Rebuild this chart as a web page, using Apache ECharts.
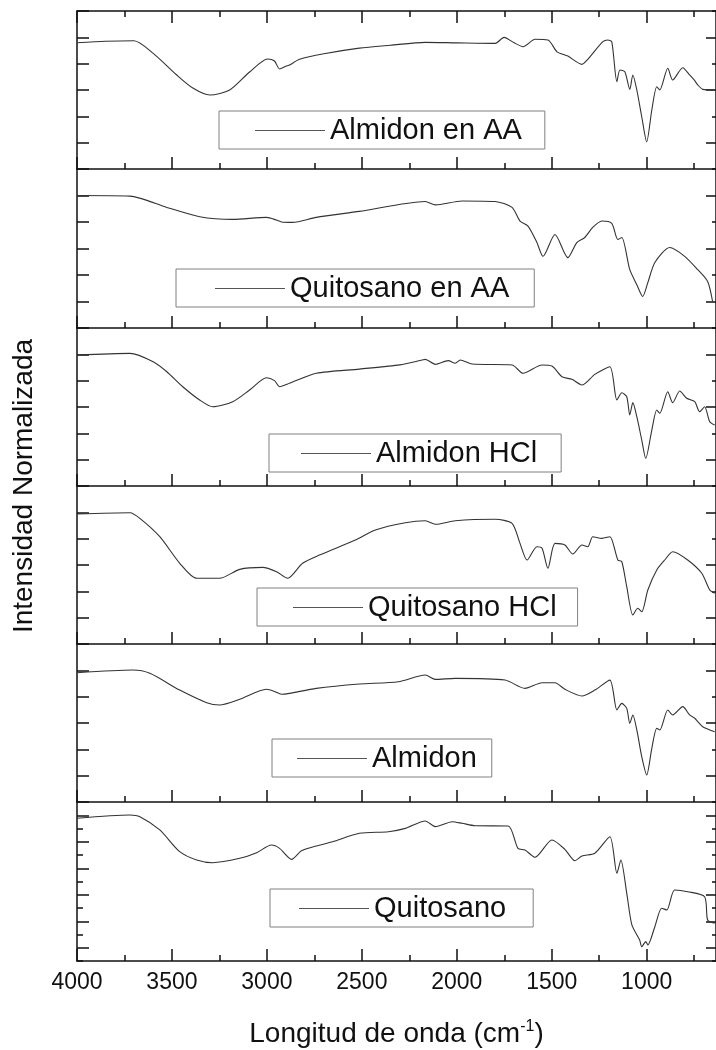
<!DOCTYPE html>
<html><head><meta charset="utf-8">
<script src="https://cdn.jsdelivr.net/npm/echarts@6/dist/echarts.min.js"></script>
<style>html,body{margin:0;padding:0;background:#fff}#c{width:716px;height:1050px}</style>
</head><body><div id="c"></div>
<script>
// ---- tick values ----
const wnMajor = [4000, 3500, 3000, 2500, 2000, 1500, 1000];
const wnMinor = [3750, 3250, 2750, 2250, 1750, 1250, 750];
const seriesNames = ['Almidon en AA', 'Quitosano en AA', 'Almidon HCl', 'Quitosano HCl', 'Almidon', 'Quitosano'];

// ---- spectra (wavenumber, normalized intensity in panel units 0..12) ----
const almidonAA_wn  = [4000,3850,3700,3600,3475,3390,3300,3196,3091,2996,2960,2933,2900,2880,2828,2700,2513,2350,2166,2000,1798,1751,1700,1651,1588,1520,1472,1415,1341,1310,1231,1205,1184,1157,1141,1115,1089,1073,1052,1026,1000,973,947,931,889,863,810,774,747,731,705,642];
const almidonAA_val = [9.59,9.7,9.74,8.8,7.14,6.15,5.62,6.0,7.37,8.35,8.2,7.6,7.8,7.9,8.33,8.75,9.18,9.4,9.62,9.58,9.54,10.0,9.6,9.29,9.85,9.8,8.9,8.58,7.95,8.33,9.67,9.8,9.67,6.63,7.52,7.39,6.05,7.14,6.0,3.97,2.07,4.48,6.25,6.0,7.65,6.76,7.69,7.14,6.71,6.38,6.05,6.0];

const quitoAA_wn  = [4000,3721,3527,3354,3180,3002,2950,2923,2865,2740,2513,2166,2113,1972,1798,1709,1667,1625,1578,1546,1483,1415,1368,1326,1284,1236,1184,1152,1131,1089,1052,1021,994,957,879,800,731,679,653];
const quitoAA_val = [10.0,9.95,9.1,8.4,8.2,8.35,8.15,8.0,7.97,8.35,8.8,9.55,9.29,9.59,9.55,9.1,8.07,7.69,6.45,5.41,7.06,5.31,6.45,6.83,7.59,8.07,7.9,6.68,6.83,4.4,3.27,2.38,3.42,4.94,6.07,5.41,4.4,3.51,2.0];

const almidonHCl_wn  = [4000,3721,3599,3527,3443,3354,3285,3180,3091,3002,2960,2933,2881,2740,2513,2300,2182,2166,2113,2045,2008,1982,1919,1709,1651,1551,1499,1446,1394,1341,1273,1194,1157,1131,1105,1089,1073,1052,1026,1005,973,947,931,889,863,826,789,747,721,695,668,642];
const almidonHCl_val = [9.95,10.07,9.44,8.68,7.54,6.53,6.02,6.4,7.29,8.22,8.0,7.54,7.8,8.56,8.88,9.2,9.57,9.62,9.24,9.52,9.32,9.57,9.26,9.19,8.56,9.19,9.11,8.3,8.1,7.67,8.48,9.06,6.53,7.08,6.78,5.39,6.33,5.26,3.49,2.1,4.25,5.77,5.52,7.16,6.33,7.21,6.66,6.4,5.64,6.02,4.88,4.63];

const quitoHCl_wn  = [4000,3721,3669,3564,3459,3370,3249,3143,3023,2949,2891,2812,2723,2534,2429,2271,2166,2113,2008,1798,1709,1667,1630,1578,1551,1520,1483,1431,1389,1341,1310,1284,1236,1194,1152,1131,1105,1073,1047,1026,994,947,905,863,784,710,668,642];
const quitoHCl_val = [9.87,9.97,9.54,8.15,6.13,4.99,4.99,5.67,5.82,5.49,4.99,6.13,6.76,7.9,8.66,9.21,9.36,9.09,9.36,9.47,9.16,7.64,6.38,7.39,7.27,5.75,7.64,7.52,6.83,7.52,7.39,8.15,8.02,8.15,6.38,6.25,4.35,2.2,2.71,2.45,4.1,5.62,6.38,7.01,6.38,5.37,4.1,3.85];

const almidon_wn  = [4000,3705,3616,3459,3317,3249,3143,3002,2960,2923,2881,2740,2513,2308,2166,2113,2008,1746,1641,1551,1483,1431,1341,1273,1194,1157,1131,1105,1089,1073,1052,1026,1000,973,947,931,889,863,810,774,747,731,705,642];
const almidon_val = [9.82,10.02,9.77,8.5,7.54,7.37,7.8,8.56,8.4,8.18,8.25,8.63,8.96,9.13,9.64,9.31,9.39,9.26,8.63,9.06,9.06,8.56,8.05,8.5,9.26,6.99,7.49,7.11,5.97,6.61,5.47,3.44,2.05,4.08,5.6,5.47,6.99,6.61,7.24,6.61,6.36,6.1,5.72,5.34];

const quito_wn  = [4000,3721,3669,3564,3459,3370,3285,3143,3054,2976,2933,2870,2818,2740,2654,2513,2360,2271,2166,2113,2024,1972,1903,1730,1678,1641,1588,1499,1431,1378,1341,1273,1194,1157,1136,1105,1078,1037,1026,1005,994,957,921,894,853,784,695,679,642];
const quito_val = [10.77,11.02,10.89,9.89,8.25,7.62,7.42,7.75,8.17,8.75,8.5,7.67,8.32,8.68,9.0,9.64,9.76,10.01,10.57,10.14,10.51,10.39,10.21,10.19,8.5,8.38,7.83,9.13,8.43,7.57,7.92,8.13,9.38,6.62,7.62,5.11,2.72,1.58,1.08,1.46,1.21,2.59,3.98,3.85,5.36,5.23,4.85,3.09,2.85];

const spectra = [
  [almidonAA_wn, almidonAA_val],
  [quitoAA_wn, quitoAA_val],
  [almidonHCl_wn, almidonHCl_val],
  [quitoHCl_wn, quitoHCl_val],
  [almidon_wn, almidon_val],
  [quito_wn, quito_val]
];

// ---- layout ----
const FONT = '"Liberation Sans", Arial, sans-serif';
const panelTops = [11, 169, 328, 486, 644, 802];
const panelHeights = [158, 159, 158, 158, 158, 159];
const legendLayout = [
  {left: 219, top: 111, padding: [5, 23, 4, 36]},
  {left: 176, top: 269, padding: [5, 25, 4, 39]},
  {left: 269, top: 434, padding: [5, 24, 4, 32]},
  {left: 257, top: 588, padding: [5, 21, 4, 36]},
  {left: 272, top: 739, padding: [5, 15, 4, 25]},
  {left: 270, top: 889, padding: [5, 27, 4, 29]}
];
const X_MIN = 635, X_MAX = 4000;
const AX = '#111';

const grids = [], xAxes = [], yAxes = [], series = [], legends = [];

function xAxis(i, position, values, len, showLine, showLabel) {
  const ax = {
    gridIndex: i, type: 'value', inverse: true, min: X_MIN, max: X_MAX, position: position,
    axisLine: {show: showLine, onZero: false, lineStyle: {color: AX, width: 1.5}},
    axisTick: {show: true, inside: true, length: len, customValues: values, lineStyle: {color: AX, width: 1.5}},
    axisLabel: {show: showLabel, customValues: values, fontSize: 23, color: '#111', fontFamily: FONT, margin: 10,
      formatter: function (v) { return String(v); }},
    splitLine: {show: false}
  };
  if (showLabel) {
    ax.name = 'Longitud de onda (cm{sup|-1})';
    ax.nameLocation = 'middle';
    ax.nameGap = 58;
    ax.nameTextStyle = {fontSize: 28, color: '#111', fontFamily: FONT, lineHeight: 30,
      rich: {sup: {fontSize: 16, fontFamily: FONT, color: '#111', verticalAlign: 'top', lineHeight: 16}}};
  }
  xAxes.push(ax);
  return xAxes.length - 1;
}

for (let i = 0; i < 6; i++) {
  grids.push({left: 77, top: panelTops[i], width: 640, height: panelHeights[i]});
  const xi = xAxis(i, 'bottom', wnMajor, 12, true, i === 5);
  xAxis(i, 'bottom', wnMinor, 6, false, false);
  if (i === 0) {
    xAxis(i, 'top', wnMajor, 12, true, false);
    xAxis(i, 'top', wnMinor, 6, false, false);
  }
  const last = i === 5;
  yAxes.push({
    gridIndex: i, type: 'value', min: 0, max: 12, interval: 2, position: 'left',
    axisLine: {show: true, onZero: false, lineStyle: {color: AX, width: 1.5}},
    axisTick: {show: true, inside: true, length: last ? 6 : 12, lineStyle: {color: AX, width: 1.5}},
    minorTick: {show: last, splitNumber: 2, length: 12, lineStyle: {color: AX, width: 1.5}},
    axisLabel: {show: false}, splitLine: {show: false}, minorSplitLine: {show: false}
  });
  const yi = yAxes.length - 1;
  yAxes.push({
    gridIndex: i, type: 'value', min: 0, max: 12, interval: last ? 2 : 4, position: 'right',
    axisLine: {show: true, onZero: false, lineStyle: {color: AX, width: 1.5}},
    axisTick: {show: true, inside: true, length: 4, lineStyle: {color: AX, width: 1.5}},
    minorTick: {show: true, splitNumber: 2, length: 10, lineStyle: {color: AX, width: 1.5}},
    axisLabel: {show: false}, splitLine: {show: false}, minorSplitLine: {show: false}
  });
  const [wn, val] = spectra[i];
  series.push({
    name: seriesNames[i], type: 'line', xAxisIndex: xi, yAxisIndex: yi,
    data: wn.map((w, k) => [w, val[k]]),
    showSymbol: false, symbol: 'none', smooth: 0.25,
    lineStyle: {color: '#333', width: 1.1}, itemStyle: {color: '#333'},
    silent: true
  });
  const L = legendLayout[i];
  legends.push({
    data: [seriesNames[i]], left: L.left, top: L.top, padding: L.padding,
    borderColor: '#808080', borderWidth: 1, itemWidth: 70, itemHeight: 1,
    icon: 'rect', itemStyle: {color: '#555'}, selectedMode: false,
    textStyle: {fontSize: 29, lineHeight: 29, color: '#111', fontFamily: FONT}
  });
}

const chart = echarts.init(document.getElementById('c'), null, {renderer: 'canvas'});
chart.setOption({
  animation: false,
  backgroundColor: '#fff',
  grid: grids, xAxis: xAxes, yAxis: yAxes, series: series, legend: legends,
  graphic: [{
    type: 'text', x: 24, y: 486, rotation: Math.PI / 2,
    style: {text: 'Intensidad Normalizada', fontSize: 28, fontFamily: FONT, fill: '#111',
      align: 'center', verticalAlign: 'middle'}
  }]
});
</script></body></html>
